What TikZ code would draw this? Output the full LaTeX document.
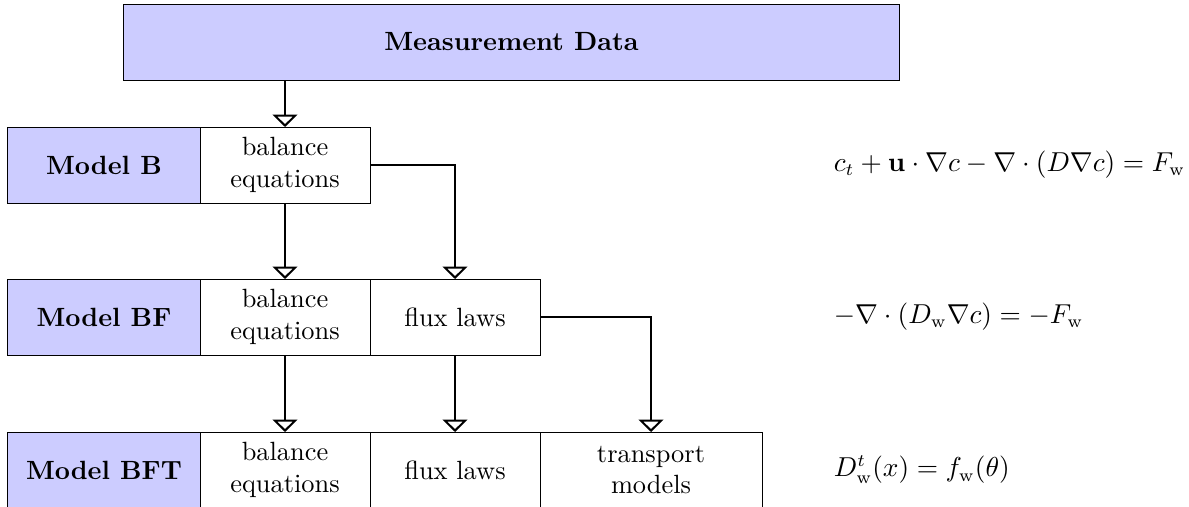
\documentclass[tikz,border=0pt]{standalone}
\usepackage{tikz}
\usetikzlibrary{arrows.meta,positioning}

\newcommand{\diagfont}{\fontsize{10.55}{12.6}\selectfont}

\begin{document}
\begin{tikzpicture}[
    x=0.4pt, y=-0.4pt,
    node distance=0pt,
    every node/.style={font=\diagfont},
    databox/.style={rectangle, draw, fill=blue!20, minimum width=310pt, minimum height=30.4pt, font=\diagfont\bfseries, outer sep=0pt},
    modelbox/.style={rectangle, draw, fill=blue!20, minimum width=76.8pt, minimum height=30.4pt, font=\diagfont\bfseries, outer sep=0pt},
    partbox/.style={rectangle, draw, fill=white, minimum width=68pt, minimum height=30.4pt, align=center, outer sep=0pt},
    widebox/.style={partbox, minimum width=88.8pt},
    arrow/.style={thick, -{Triangle[open, width=10pt, length=5pt]}},
    eqn/.style={anchor=west}
]
\useasboundingbox (0,0) rectangle (1189,507);

% Top: Measurement Data
\node [databox] (data) at (511.5,42) {Measurement Data};

% Model B
\node [modelbox] (modelb) at (104,165) {Model B};
\node [partbox, right=of modelb] (bal_b) {balance\\equations};

% Model BF
\node [modelbox] (modelbf) at (104,317) {Model BF};
\node [partbox, right=of modelbf] (bal_bf) {balance\\equations};
\node [partbox, right=of bal_bf] (flux_bf) {flux laws};

% Model BFT
\node [modelbox] (modelbft) at (104,470) {Model BFT};
\node [partbox, right=of modelbft] (bal_bft) {balance\\equations};
\node [partbox, right=of bal_bft] (flux_bft) {flux laws};
\node [widebox, right=of flux_bft] (trans_bft) {transport\\models};

% Equations
\node [eqn] (eq_b) at (825,165) {$c_t + \mathbf{u}\cdot\nabla c - \nabla\cdot(D\nabla c) = F_{\mathrm{w}}$};
\node [eqn] (eq_bf) at (825,317) {$-\nabla\cdot(D_{\mathrm{w}}\nabla c) = -F_{\mathrm{w}}$};
\node [eqn] (eq_bft) at (825,470) {$D^t_{\mathrm{w}}(x) = f_{\mathrm{w}}(\theta)$};

% Draw arrows
\draw [arrow] (data.south -| bal_b) -- (bal_b);
\draw [arrow] (bal_b) -- (bal_bf);
\draw [arrow] (bal_b.east) -| (flux_bf.north);
\draw [arrow] (bal_bf) -- (bal_bft);
\draw [arrow] (flux_bf) -- (flux_bft);
\draw [arrow] (flux_bf.east) -| (trans_bft.north);

\end{tikzpicture}
\end{document}
